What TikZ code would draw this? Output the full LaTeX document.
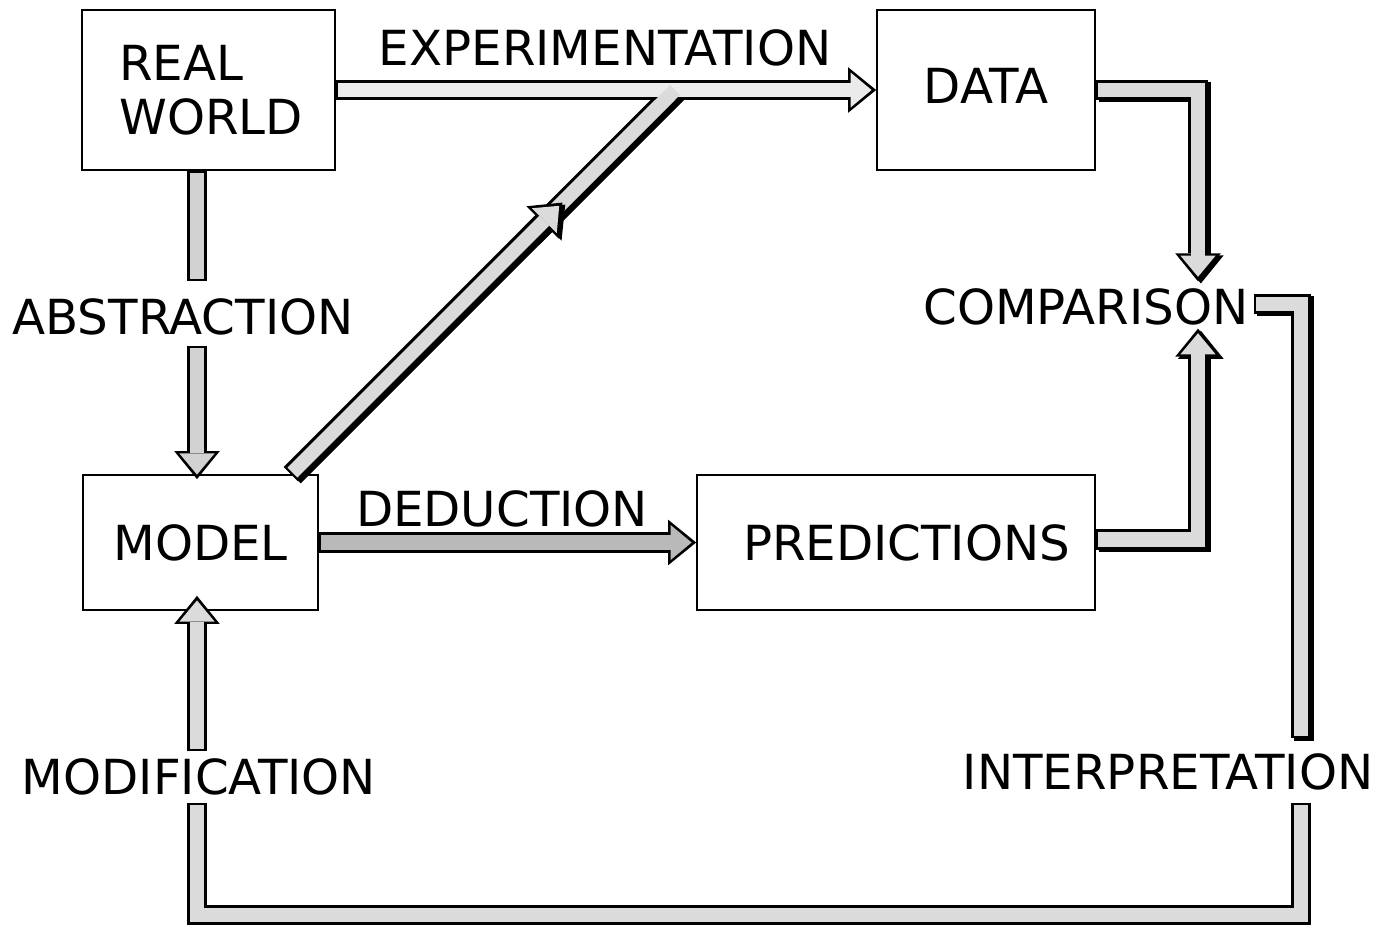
\documentclass[tikz,border=0pt]{standalone}
\usepackage{fontspec}
\setmainfont{DejaVu Sans}
\usetikzlibrary{arrows.meta,calc}

\newcommand\lbl{\fontsize{27.5}{31}\selectfont}

\tikzset{
  box/.style={draw, line width=1pt, inner sep=0pt, font=\lbl},
  lab/.style={inner sep=0pt, font=\lbl},
  pipe/.style={draw=black, line width=11.5pt,
    postaction={draw=#1, line width=8pt, shorten <=1.3pt, shorten >=1.3pt}},
  pipe/.default=gray!28,
  pipehead/.style={draw=black, line width=11.5pt,
    -{Triangle[width=26pt,length=16pt,line width=0pt]},
    postaction={draw=#1, line width=8pt, shorten <=1.3pt, shorten >=2.6pt,
      -{Triangle[width=20pt,length=12pt,line width=0pt]}}},
  pipehead/.default=gray!28,
  shadowed/.style={preaction={draw=black, line width=11.5pt,
    transform canvas={shift={(1.6pt,-1.2pt)}}}},
}

\begin{document}
\begin{tikzpicture}[x=0.02cm,y=-0.02cm,line join=miter]
  \useasboundingbox (0,0) rectangle (1385,934);

  % boxes
  \node[box,minimum width=5.06cm,minimum height=3.2cm,align=left] (rw) at (208.5,90) {\hspace*{3pt}REAL\\\hspace*{3pt}WORLD};
  \node[box,minimum width=4.36cm,minimum height=3.2cm] (data) at (986,90) {\raisebox{5pt}{DATA}};
  \node[box,minimum width=4.7cm,minimum height=2.7cm] (model) at (200.5,542.5) {MODEL};
  \node[box,minimum width=7.96cm,minimum height=2.7cm] (pred) at (896,542.5) {\hspace*{12pt}PREDICTIONS};

  % labels
  \node[lab] (lexp) at (605,48) {EXPERIMENTATION};
  \node[lab] (labs) at (183,317) {ABSTRACTION};
  \node[lab] (lcmp) at (1086,307) {COMPARISON};
  \node[lab] (lded) at (502,509) {DEDUCTION};
  \node[lab] (lmod) at (199,777) {MODIFICATION};
  \node[lab] (lint) at (1168,772) {INTERPRETATION};

  \coordinate (lx) at (197,0);
  \coordinate (cx) at (1198,0);
  \coordinate (ix) at (1301,0);
  \coordinate (by) at (0,915);
  \coordinate (dg0) at ($(model.north east)+(-28,0)$);
  \coordinate (dgj) at (675,90);
  \coordinate (dgm) at ($(dg0)!0.707!(dgj)$);

  % diagonal, upper part first
  \draw[pipe,shadowed] ($(dg0)!0.62!(dgj)$) -- (dgj);
  \draw[pipehead=gray!16] (rw.east) -- (data.west);
  \draw[gray!28,line width=8pt] ($(dg0)!0.62!(dgj)$) -- (dgj);
  \draw[pipehead,shadowed] (dg0) -- (dgm);

  % abstraction
  \draw[pipe=gray!35] (rw.south -| lx) -- ($(labs.north -| lx)+(0,-17)$);
  \draw[pipehead=gray!35] ($(labs.south -| lx)+(0,10)$) -- ($(model.north -| lx)+(0,5)$);

  % deduction
  \draw[pipehead=gray!55] (model.east) -- (pred.west);

  % comparison
  \draw[pipehead,shadowed] (data.east) -| ($(lcmp.north -| cx)+(0,-7)$);
  \draw[pipehead,shadowed] ($(pred.east)+(0,-3)$) -| ($(lcmp.south -| cx)+(0,3)$);

  % interpretation and modification
  \draw[pipe,shadowed] ($(lcmp.east)+(5,-3)$) -| ($(lint.north -| ix)+(0,-15)$);
  \draw[pipe] ($(lint.south -| ix)+(0,12)$) |- (by -| lx) -- ($(lmod.south -| lx)+(0,7)$);
  \draw[pipehead] ($(lmod.north -| lx)+(0,-7)$) -- ($(model.south -| lx)+(0,-15)$);
\end{tikzpicture}
\end{document}
